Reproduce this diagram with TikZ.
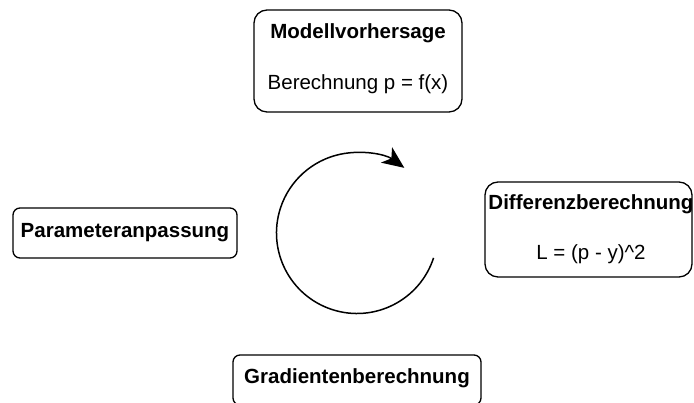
\documentclass[tikz,border=0pt]{standalone}
\usepackage{fontspec}
\setmainfont{Liberation Sans}
\usetikzlibrary{arrows.meta}
\begin{document}
\begin{tikzpicture}[x=1pt,y=1pt,
  card/.style={draw=black, line width=1.3pt, fill=white, rounded corners=#1},
  label/.style={inner sep=0pt, font=\fontsize{20.5}{24}\selectfont},
  title/.style={label, font=\fontsize{20.5}{24}\selectfont\bfseries},
  cycle/.style={line width=1.5pt, -{Stealth[length=22pt, width=19pt, inset=6pt]}}]
\useasboundingbox (0,0) rectangle (694,403);

% stage boxes
\node[card=13pt, minimum width=208pt, minimum height=102pt] (mv) at (358,342) {};
\node[title] (mvt) at (358,370) {Modellvorhersage};
\node[label] (mvs) at (358,319) {Berechnung p = f(x)};

\node[card=13pt, minimum width=207pt, minimum height=95pt] (db) at (588.5,173.5) {};
\node[title] (dbt) at (591,199) {Differenzberechnung};
\node[label] (dbs) at (591,149) {L = (p - y)\^{}2};

\node[card=7pt, minimum width=224pt, minimum height=50pt] (pa) at (125,170) {};
\node[title] (pat) at (125,170) {Parameteranpassung};

\node[card=7pt, minimum width=248pt, minimum height=50pt] (gb) at (357,23) {};
\node[title] (gbt) at (357,25) {Gradientenberechnung};

% circular arrow of the training loop
\coordinate (loopc) at (357,170);
\draw[cycle] ([shift={(-18:80.5)}]loopc) arc[start angle=-18, end angle=-306, radius=80.5];
\end{tikzpicture}
\end{document}
